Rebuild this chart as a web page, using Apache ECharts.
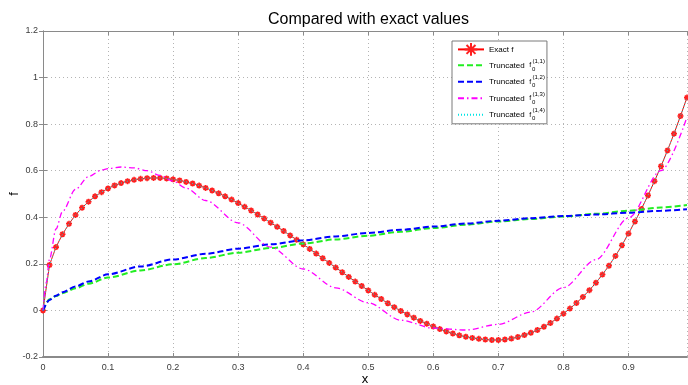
<!DOCTYPE html>
<html>
<head>
<meta charset="utf-8">
<script src="https://cdn.jsdelivr.net/npm/echarts@6/dist/echarts.min.js"></script>
<style>html,body{margin:0;padding:0;background:#fff}#c{width:688px;height:385px}</style>
</head>
<body>
<div id="c"></div>
<script>
// ---- data ----
const xExact = [0,0.01,0.02,0.03,0.04,0.05,0.06,0.07,0.08,0.09,
  0.10,0.11,0.12,0.13,0.14,0.15,0.16,0.17,0.18,0.19,
  0.20,0.21,0.22,0.23,0.24,0.25,0.26,0.27,0.28,0.29,
  0.30,0.31,0.32,0.33,0.34,0.35,0.36,0.37,0.38,0.39,
  0.40,0.41,0.42,0.43,0.44,0.45,0.46,0.47,0.48,0.49,
  0.50,0.51,0.52,0.53,0.54,0.55,0.56,0.57,0.58,0.59,
  0.60,0.61,0.62,0.63,0.64,0.65,0.66,0.67,0.68,0.69,
  0.70,0.71,0.72,0.73,0.74,0.75,0.76,0.77,0.78,0.79,
  0.80,0.81,0.82,0.83,0.84,0.85,0.86,0.87,0.88,0.89,
  0.90,0.91,0.92,0.93,0.94,0.95,0.96,0.97,0.98,0.99];
const exactF = [0,0.195,0.272,0.327,0.372,0.410,0.441,0.467,0.490,0.508,
  0.524,0.537,0.547,0.555,0.561,0.565,0.568,0.569,0.569,0.567,
  0.563,0.558,0.552,0.545,0.536,0.526,0.515,0.503,0.490,0.476,
  0.461,0.445,0.429,0.412,0.395,0.377,0.359,0.341,0.322,0.303,
  0.284,0.264,0.244,0.224,0.204,0.184,0.164,0.144,0.124,0.105,
  0.086,0.067,0.049,0.031,0.014,-0.002,-0.017,-0.031,-0.045,-0.057,
  -0.069,-0.080,-0.090,-0.099,-0.107,-0.113,-0.118,-0.122,-0.125,-0.127,
  -0.127,-0.125,-0.121,-0.114,-0.106,-0.096,-0.084,-0.070,-0.054,-0.035,
  -0.014,0.008,0.032,0.058,0.087,0.119,0.154,0.192,0.234,0.280,
  0.330,0.382,0.436,0.494,0.555,0.619,0.687,0.759,0.835,0.914];

const xTrunc = [0,0.01,0.02,0.03,0.05,0.07,0.10,0.15,0.20,0.25,0.30,0.35,0.40,0.45,0.50,
  0.55,0.60,0.65,0.70,0.75,0.80,0.85,0.90,0.95,0.99];
const trunc11 = [0,0.048,0.062,0.074,0.095,0.115,0.141,0.172,0.198,0.225,0.248,0.268,0.287,0.305,0.321,
  0.338,0.354,0.368,0.382,0.393,0.403,0.415,0.428,0.442,0.453];
const trunc12 = [0,0.045,0.063,0.078,0.103,0.124,0.155,0.189,0.219,0.243,0.265,0.284,0.301,0.318,0.333,
  0.346,0.360,0.373,0.385,0.396,0.405,0.412,0.420,0.428,0.435];

const xTrunc13 = [0,0.005,0.01,0.02,0.03,0.05,0.07,0.09,0.10,0.12,0.14,0.16,0.18,0.20,0.22,0.25,
  0.30,0.35,0.40,0.45,0.50,0.55,0.60,0.65,0.70,0.75,0.80,0.85,0.90,0.95,0.99];
const trunc13 = [0,0.12,0.22,0.35,0.425,0.52,0.575,0.603,0.609,0.616,0.612,0.600,0.580,0.555,0.525,0.472,
  0.376,0.272,0.178,0.097,0.033,-0.042,-0.076,-0.084,-0.060,-0.007,0.098,0.218,0.397,0.600,0.830];

// f^(1,4) is indistinguishable from the exact solution in the picture
const trunc14 = exactF;

const seriesNames = ['Exact f','Truncated f(1,1)','Truncated f(1,2)','Truncated f(1,3)','Truncated f(1,4)'];
const legendSup = ['', '(1,1)', '(1,2)', '(1,3)', '(1,4)'];
const yTicks = [-0.2,0,0.2,0.4,0.6,0.8,1,1.2];
const xTicks = [0,0.1,0.2,0.3,0.4,0.5,0.6,0.7,0.8,0.9];

// ---- chart ----
const FONT = 'Liberation Sans, Arial, sans-serif';
const pair = (xs, ys) => xs.map((x, i) => [x, ys[i]]);
const star = 'path://M0,-10L0,10M-10,0L10,0M-7,-7L7,7M-7,7L7,-7';

const chart = echarts.init(document.getElementById('c'), null, {renderer: 'canvas'});

const gridLine = {show: true, lineStyle: {color: '#b4b4b4', type: [1, 3], width: 1}};
const axLine = {show: true, lineStyle: {color: '#8a8a8a', width: 1}};
const tick = {show: true, inside: true, length: 4, lineStyle: {color: '#8a8a8a'}};

chart.setOption({
  animation: false,
  backgroundColor: '#fff',
  title: {
    text: 'Compared with exact values',
    left: 263, top: 7,
    textStyle: {fontFamily: FONT, fontSize: 16, fontWeight: 'normal', color: '#000'}
  },
  grid: {left: 43, top: 31, right: 1, bottom: 28, containLabel: false, outerBoundsMode: 'none'},
  legend: {
    orient: 'vertical',
    left: 452, top: 41,
    padding: [1, 2, 1, 5],
    itemGap: 0.5,
    itemWidth: 26, itemHeight: 16,
    backgroundColor: '#fff',
    borderColor: '#7a7a7a', borderWidth: 1, borderRadius: 0,
    data: seriesNames.map((n, i) => i === 0 ? {name: n} : {name: n, itemStyle: {opacity: 0}}),
    formatter: function (name) {
      const i = seriesNames.indexOf(name);
      if (i === 0) return '{t|Exact f}';
      return '{t|Truncated  }{f|f}{sub|0}{sup|' + legendSup[i] + '}';
    },
    textStyle: {
      fontFamily: FONT, fontSize: 8, color: '#000',
      rich: {
        t: {fontFamily: FONT, fontSize: 8, color: '#000', lineHeight: 16},
        f: {fontFamily: FONT, fontSize: 7, color: '#000', lineHeight: 16, padding: [0, 1, 0, 0]},
        sub: {fontFamily: FONT, fontSize: 6, color: '#000', verticalAlign: 'bottom', lineHeight: 16, width: 0.5, padding: [0, 0, 1, 0]},
        sup: {fontFamily: FONT, fontSize: 6, color: '#000', verticalAlign: 'top', lineHeight: 16, padding: [1, 0, 0, 0]}
      }
    }
  },
  xAxis: [{
    type: 'value', min: 0, max: 0.99, interval: 0.1,
    name: 'x', nameLocation: 'middle', nameGap: 16, nameMoveOverlap: false,
    nameTextStyle: {fontFamily: FONT, fontSize: 13, color: '#000'},
    axisLine: {show: true, onZero: false, lineStyle: {color: '#8a8a8a', width: 2}},
    axisTick: tick,
    axisLabel: {fontFamily: FONT, fontSize: 9, color: '#3a3a3a', margin: 6, showMaxLabel: false,
      formatter: v => (xTicks.some(t => Math.abs(t - v) < 1e-9) ? String(+v.toFixed(2)) : '')},
    splitLine: gridLine
  }, {
    type: 'value', min: 0, max: 0.99, interval: 0.1, position: 'top',
    axisLine: {show: true, onZero: false, lineStyle: {color: '#8a8a8a', width: 1}},
    axisTick: tick, axisLabel: {show: false}, splitLine: {show: false}
  }],
  yAxis: [{
    type: 'value', min: -0.2, max: 1.2, interval: 0.2,
    name: 'f', nameLocation: 'middle', nameGap: 22, nameMoveOverlap: false,
    nameTextStyle: {fontFamily: FONT, fontSize: 13, color: '#000'},
    axisLine: {show: true, onZero: false, lineStyle: {color: '#8a8a8a', width: 1}},
    axisTick: tick,
    axisLabel: {fontFamily: FONT, fontSize: 9, color: '#3a3a3a', margin: 5,
      formatter: v => String(+v.toFixed(1))},
    splitLine: gridLine
  }, {
    type: 'value', min: -0.2, max: 1.2, interval: 0.2, position: 'right',
    axisLine: axLine, axisTick: tick, axisLabel: {show: false}, splitLine: {show: false}
  }],
  series: [
    {
      name: seriesNames[0], type: 'line', data: pair(xExact, exactF),
      symbol: star, symbolSize: 6, showSymbol: true,
      lineStyle: {color: '#ff0000', width: 1},
      itemStyle: {color: '#ff0000', borderColor: '#ff2020', borderWidth: 1.6},
      z: 2
    },
    {
      name: seriesNames[1], type: 'line', data: pair(xTrunc, trunc11),
      smooth: 0.3, smoothMonotone: 'x', showSymbol: false, symbol: 'none',
      lineStyle: {color: '#22ee22', width: 2, type: [6, 3]},
      itemStyle: {color: '#22ee22'}, z: 3
    },
    {
      name: seriesNames[2], type: 'line', data: pair(xTrunc, trunc12),
      smooth: 0.3, smoothMonotone: 'x', showSymbol: false, symbol: 'none',
      lineStyle: {color: '#0000ff', width: 2, type: [6, 3]},
      itemStyle: {color: '#0000ff'}, z: 4
    },
    {
      name: seriesNames[3], type: 'line', data: pair(xTrunc13, trunc13),
      smooth: 0.3, smoothMonotone: 'x', showSymbol: false, symbol: 'none',
      lineStyle: {color: '#ff00ff', width: 1.3, type: [6, 3, 1.5, 3]},
      itemStyle: {color: '#ff00ff'}, z: 5
    },
    {
      name: seriesNames[4], type: 'line', data: pair(xExact, trunc14),
      showSymbol: false, symbol: 'none',
      lineStyle: {color: '#00e5e5', width: 1, type: [1, 2]},
      itemStyle: {color: '#00e5e5'}, z: 6
    }
  ]
});
</script>
</body>
</html>
